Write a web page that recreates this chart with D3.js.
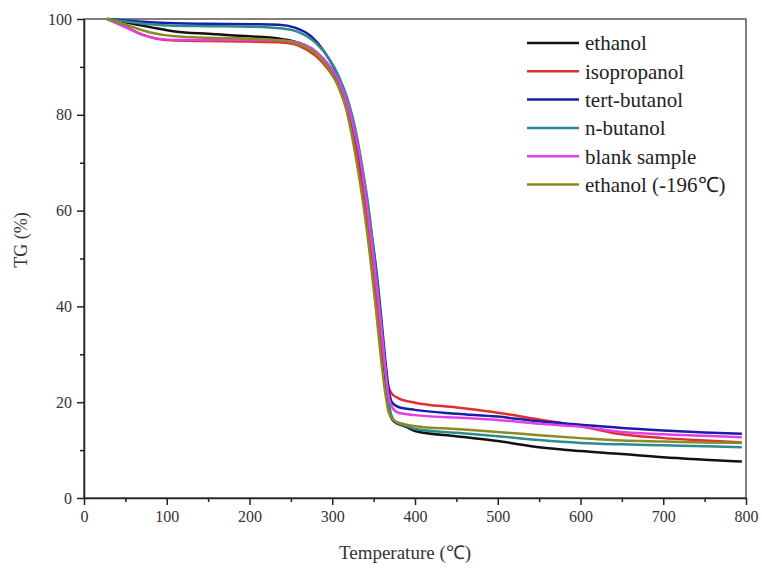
<!DOCTYPE html>
<html>
<head>
<meta charset="utf-8">
<script src="https://cdn.jsdelivr.net/npm/d3@7"></script>
<style>
  body { margin: 0; background: #fff; }
  text { font-family: "Liberation Serif", "Times New Roman", serif; }
</style>
</head>
<body>
<div id="chart"></div>
<script>
// TG curves, [temperature, TG %]
const ethanol = [[28,100],[50,99.3],[80,98.3],[110,97.4],[150,96.9],[200,96.4],[240,95.8],[260,95],[280,93.2],[295,90.3],[308,86.5],[318,81.5],[326,75],[333,68],[340,60],[347,50],[354,39],[360,29],[365,22],[369,17.8],[375,15.9],[390,14.8],[400,14.0],[450,12.9],[500,11.9],[550,10.6],[600,9.8],[650,9.2],[700,8.5],[750,8.0],[795,7.6]];
const isopropanol = [[28,100],[50,98.4],[70,96.8],[90,95.8],[110,95.5],[150,95.4],[200,95.3],[240,95.1],[260,94.4],[280,92.3],[295,89.5],[308,85.8],[318,81],[326,75],[334,68],[341,60],[348,50],[355,39.5],[361,30],[366,24.5],[371,22],[380,20.8],[400,19.9],[450,18.9],[500,17.8],[550,16.4],[600,15.0],[650,13.3],[700,12.5],[750,12.0],[795,11.6]];
const tertButanol = [[28,100],[50,99.7],[80,99.3],[110,99.1],[150,99.0],[200,98.9],[235,98.8],[255,98.2],[275,96.3],[290,93.3],[303,89.5],[314,85],[323,79.5],[331,73],[339,65],[346,57],[353,48],[359,38],[364,29],[368,23],[372,20],[380,19],[400,18.4],[450,17.6],[500,17.0],[550,16.0],[600,15.3],[650,14.6],[700,14.1],[750,13.7],[795,13.4]];
const nButanol = [[28,100],[50,99.5],[80,98.9],[110,98.6],[150,98.5],[200,98.4],[240,98.0],[260,97.2],[280,95],[295,92],[308,88],[319,83],[328,77],[336,69.5],[344,60.5],[351,50],[358,38.5],[363,29],[367,22],[371,17.5],[377,15.8],[390,15.0],[400,14.4],[450,13.6],[500,12.9],[550,12.1],[600,11.5],[650,11.2],[700,11.0],[750,10.8],[795,10.6]];
const blankSample = [[28,100],[50,98.3],[70,96.7],[90,95.9],[110,95.6],[150,95.6],[200,95.6],[240,95.5],[260,95],[280,93.2],[295,90.6],[308,87],[318,82.5],[327,76.5],[335,69.5],[342,61],[350,50],[357,39],[363,29],[367,22.5],[372,19],[380,17.8],[400,17.3],[450,16.8],[500,16.3],[550,15.5],[600,14.9],[650,13.8],[700,13.3],[750,13.0],[795,12.7]];
const ethanolCold = [[28,100],[50,98.8],[80,97.2],[110,96.4],[150,96.1],[200,95.9],[240,95.5],[260,94.7],[280,92.8],[295,89.8],[307,86],[317,81],[325,74.5],[332,67.5],[339,59.5],[346,50],[353,39],[359,29],[364,22],[368,18],[374,16.3],[385,15.5],[400,15.0],[450,14.4],[500,13.8],[550,13.1],[600,12.5],[650,12.0],[700,11.8],[750,11.6],[795,11.5]];

const seriesNames = ["ethanol", "isopropanol", "tert-butanol", "n-butanol", "blank sample", "ethanol (-196\u2103)"];
const seriesData = [ethanol, isopropanol, tertButanol, nButanol, blankSample, ethanolCold];
const colors = ["#111111", "#e0302c", "#1c1ca8", "#2a8c8c", "#e040e8", "#8c8a22"];

const xTicks = [0, 100, 200, 300, 400, 500, 600, 700, 800];
const yTicks = [0, 20, 40, 60, 80, 100];

const width = 762, height = 571;
const plotLeft = 84, plotRight = 746, plotTop = 19, plotBottom = 498;

const svg = d3.select("#chart").append("svg")
    .attr("width", width)
    .attr("height", height);

const x = d3.scaleLinear().domain([0, 800]).range([plotLeft, plotRight]);
const y = d3.scaleLinear().domain([0, 100]).range([plotBottom, plotTop]);

// frame
svg.append("rect")
    .attr("x", plotLeft).attr("y", plotTop)
    .attr("width", plotRight - plotLeft).attr("height", plotBottom - plotTop)
    .attr("fill", "none")
    .attr("stroke", "#555")
    .attr("stroke-width", 1.5);

// minor ticks
const xAxisMinor = d3.axisBottom(x).tickValues(d3.range(50, 800, 100)).tickSize(4).tickFormat("");
const yAxisMinor = d3.axisLeft(y).tickValues(d3.range(10, 100, 20)).tickSize(4).tickFormat("");

svg.append("g").attr("transform", `translate(0,${plotBottom})`).call(xAxisMinor)
    .call(g => g.select(".domain").remove())
    .selectAll("line").attr("stroke", "#222").attr("stroke-width", 1.5);
svg.append("g").attr("transform", `translate(${plotLeft},0)`).call(yAxisMinor)
    .call(g => g.select(".domain").remove())
    .selectAll("line").attr("stroke", "#222").attr("stroke-width", 1.5);

// major axes
const xAxis = svg.append("g")
    .attr("transform", `translate(0,${plotBottom})`)
    .call(d3.axisBottom(x).tickValues(xTicks).tickSize(7).tickPadding(6).tickSizeOuter(0));
const yAxis = svg.append("g")
    .attr("transform", `translate(${plotLeft},0)`)
    .call(d3.axisLeft(y).tickValues(yTicks).tickSize(7).tickPadding(5).tickSizeOuter(0));

[xAxis, yAxis].forEach(a => {
    a.select(".domain").attr("stroke", "#222").attr("stroke-width", 1.5);
    a.selectAll("line").attr("stroke", "#222").attr("stroke-width", 1.5);
    a.selectAll("text")
        .style("font-family", "'Liberation Serif', serif")
        .style("font-size", "16px")
        .attr("fill", "#333");
});

// curves
const line = d3.line()
    .x(d => x(d[0]))
    .y(d => y(d[1]))
    .curve(d3.curveMonotoneX);

seriesData.forEach((data, i) => {
    svg.append("path")
        .datum(data)
        .attr("d", line)
        .attr("fill", "none")
        .attr("stroke", colors[i])
        .attr("stroke-width", 2.5)
        .attr("stroke-linejoin", "round");
});

// axis titles
svg.append("text")
    .attr("x", 405)
    .attr("y", 559)
    .attr("text-anchor", "middle")
    .style("font-size", "19px")
    .attr("fill", "#333")
    .text("Temperature (\u2103)");

svg.append("text")
    .attr("transform", "translate(27,240) rotate(-90)")
    .attr("text-anchor", "middle")
    .style("font-size", "18px")
    .attr("fill", "#333")
    .text("TG (%)");

// legend
const legend = svg.append("g");
seriesNames.forEach((name, i) => {
    const ly = 43 + i * 28.3;
    legend.append("line")
        .attr("x1", 527).attr("x2", 579)
        .attr("y1", ly).attr("y2", ly)
        .attr("stroke", colors[i])
        .attr("stroke-width", 2.5);
    legend.append("text")
        .attr("x", 585)
        .attr("y", ly)
        .attr("dy", "0.35em")
        .style("font-size", "21px")
        .attr("fill", "#222")
        .text(name);
});
</script>
</body>
</html>
